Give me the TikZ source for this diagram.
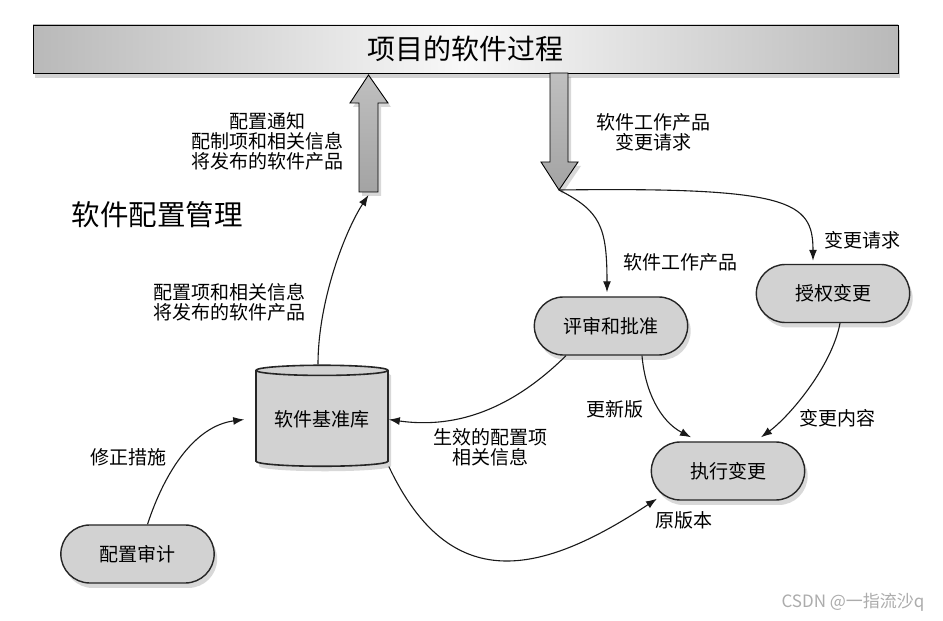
\documentclass[tikz,border=0pt]{standalone}
\usepackage{fontspec}
\setmainfont{Noto Sans CJK SC}
\usetikzlibrary{shapes,arrows.meta,shadows}
\tikzstyle{bar} = [rectangle, draw=black, line width=0.8pt,
    minimum width=865pt, minimum height=48pt,
    left color=gray!55, right color=gray!55, middle color=gray!5,
    drop shadow={opacity=0.35, shadow xshift=2pt, shadow yshift=-5pt},
    font=\fontsize{28pt}{30pt}\selectfont]
\tikzstyle{pill} = [rounded rectangle, draw=black!85, line width=1.4pt, fill=gray!35,
    minimum width=160pt, minimum height=58pt,
    drop shadow={opacity=0.3, shadow xshift=3pt, shadow yshift=-5pt},
    font=\fontsize{19pt}{20pt}\selectfont]
\tikzstyle{store} = [cylinder, shape border rotate=90, aspect=0.1, draw=black!85,
    line width=1.6pt, fill=gray!35, minimum width=132pt, minimum height=101pt,
    drop shadow={opacity=0.3, shadow xshift=3pt, shadow yshift=-5pt},
    font=\fontsize{19pt}{20pt}\selectfont]
\tikzstyle{bigarrow} = [draw=black, line width=0.9pt, top color=gray!50, bottom color=gray!72,
    drop shadow={opacity=0.3, shadow xshift=3pt, shadow yshift=-4pt}]
\tikzstyle{line} = [draw, black!90, line width=1.1pt, -{Latex[length=11pt,width=8pt]}]
\tikzstyle{lbl} = [align=center, inner sep=0pt, font=\fontsize{19pt}{20pt}\selectfont]

\begin{document}
\begin{tikzpicture}[x=1pt, y=1pt]
    \fill[white] (0,0) rectangle (943,621);
    \useasboundingbox (0,0) rectangle (943,621);

    \node[bar] (bar) at (465.5,572) {项目的软件过程};
    \node[pill, below of=bar, node distance=277pt, xshift=145.5pt] (review) {评审和批准};
    \node[pill, right of=review, node distance=222pt, yshift=32.5pt] (auth) {授权变更};
    \node[pill, below of=review, node distance=145pt, xshift=117pt] (exec) {执行变更};
    \node[store, left of=review, node distance=289pt, yshift=-93.5pt] (base) {软件基准库};
    \node[pill, below of=base, node distance=134.5pt, xshift=-184.5pt] (audit) {配置审计};

    % big arrows to and from the process bar
    \path[bigarrow] (359,429) -- (359,518) -- (350,518) -- (368.5,546) -- (388,518)
        -- (378,518) -- (378,429) -- cycle;
    \coordinate (uptail) at (368.5,429);
    \path[bigarrow] (550,548) -- (550,459) -- (541,459) -- (559,431) -- (578,459)
        -- (568,459) -- (568,548) -- cycle;
    \coordinate (split) at (559,431);

    \node[lbl] (notice) at (267,480) {配置通知\\配制项和相关信息\\将发布的软件产品};
    \node[lbl, font=\fontsize{28.5pt}{30pt}\selectfont] (scm) at (157,406) {软件配置管理};
    \node[lbl] (release) at (229,318.5) {配置项和相关信息\\将发布的软件产品};
    \node[lbl] (wpreq) at (653,489) {软件工作产品\\变更请求};
    \node[lbl] (wp) at (680,359) {软件工作产品};
    \node[lbl] (req) at (862,381) {变更请求};
    \node[lbl] (fix) at (128,164) {修正措施};
    \node[lbl] (valid) at (490,173.5) {生效的配置项\\相关信息};
    \node[lbl] (newver) at (615,212) {更新版};
    \node[lbl] (content) at (837,203) {变更内容};
    \node[lbl] (oldver) at (684,101) {原版本};
    \node[lbl, text=gray!65, font=\fontsize{17pt}{18pt}\selectfont] (mark) at (853,19) {CSDN @一指流沙q};

    \path[line] (split) .. controls (790,434) and (813,420) .. ([xshift=-20pt,yshift=3pt]auth.north);
    \path[line] (split) .. controls (600,410) and (607,395) .. ([xshift=-4pt,yshift=4pt]review.north);
    \path[line] ([xshift=-4pt]base.north) .. controls (318,320) and (345,390) .. ([yshift=-3pt]uptail);
    \path[line] ([xshift=10pt]audit.north) .. controls (165,150) and (195,195) .. ([xshift=-11pt]base.west);
    \path[line] ([xshift=-45pt]review.south) .. controls (525,225) and (470,190) .. (base.east);
    \path[line] ([xshift=31pt]review.south) .. controls (645,230) and (660,200) .. ([xshift=-37pt,yshift=4pt]exec.north);
    \path[line] ([xshift=7pt]auth.south) .. controls (832,255) and (790,205) .. ([xshift=33pt,yshift=4pt]exec.north);
    \path[line] ([yshift=-47pt]base.east) .. controls (450,25) and (540,45) .. ([xshift=-71pt,yshift=2pt]exec.south);
\end{tikzpicture}
\end{document}
